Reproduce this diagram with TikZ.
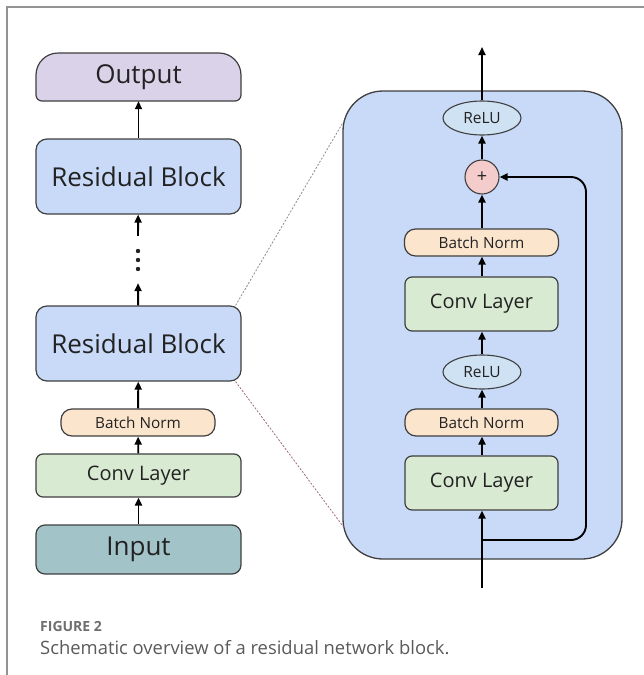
\documentclass[tikz,border=0pt]{standalone}
\usepackage{fontspec}
\setmainfont{Open Sans}
\usetikzlibrary{arrows.meta,shapes.geometric}
\definecolor{txt}{HTML}{222222}
\definecolor{edge}{HTML}{3f3f3f}
\definecolor{blueblk}{HTML}{C9DAF8}
\definecolor{lav}{HTML}{D9D2E9}
\definecolor{peach}{HTML}{FCE5CD}
\definecolor{mint}{HTML}{D9EAD3}
\definecolor{teal}{HTML}{A2C4C9}
\definecolor{relu}{HTML}{CFE2F3}
\definecolor{pink}{HTML}{F4CCCC}
\tikzset{
  box/.style={draw=edge,line width=1.2pt,rounded corners=7pt,text=txt,inner sep=0pt},
  bigtxt/.style={font=\fontsize{26}{26}\selectfont},
  convtxt/.style={font=\fontsize{20}{20}\selectfont},
  bntxt/.style={font=\fontsize{15.3}{15.3}\selectfont},
  arr/.style={line width=1.9pt,-{Triangle[length=8pt,width=7pt]}},
  ell/.style={ellipse,draw=edge,line width=1.1pt,fill=relu,text=txt,inner sep=0pt,minimum width=78pt,minimum height=34pt,font=\fontsize{15.5}{15.5}\selectfont},
}
\begin{document}
\begin{tikzpicture}[x=1pt,y=-1pt]
\useasboundingbox (0,0) rectangle (644,675);
% frame
\draw[color=gray!85,line width=1.5pt] (7,675) -- (7,7) -- (644,7);
% left column
\filldraw[fill=lav,draw=edge,line width=1.2pt] (36,95) -- (36,75) arc[start angle=180,end angle=270,radius=22] -- (219,53) arc[start angle=270,end angle=360,radius=22] -- (241,95) arc[start angle=0,end angle=90,radius=6] -- (42,101) arc[start angle=90,end angle=180,radius=6] -- cycle;
\node[text=txt,inner sep=0pt,minimum width=205pt,minimum height=48pt,bigtxt] (out) at (138.5,77) {Output};
\node[box,fill=blueblk,minimum width=205pt,minimum height=75pt,rounded corners=11pt,bigtxt] (res1) at (138.5,176.5) {Residual Block};
\node[inner sep=0pt,minimum width=10pt,minimum height=47pt] (dots) at (138,259.5) {};
\foreach \yy in {251,260,269} \fill[txt] (138,\yy) circle (2.2pt);
\node[box,fill=blueblk,minimum width=205pt,minimum height=75pt,rounded corners=11pt,bigtxt] (res2) at (138.5,343.5) {Residual Block};
\node[box,fill=peach,minimum width=154pt,minimum height=27pt,rounded corners=11pt,bntxt] (bn0) at (138,422.5) {Batch Norm};
\node[box,fill=mint,minimum width=205pt,minimum height=43pt,convtxt] (cv0) at (138.5,475.5) {Conv Layer};
\node[box,fill=teal,minimum width=205pt,minimum height=49pt,rounded corners=9pt,bigtxt] (inp) at (138.5,549.5) {Input};
\draw[arr] (inp) -- (cv0);
\draw[arr] (cv0) -- (bn0);
\draw[arr] (bn0) -- (res2);
\draw[arr] (res2) -- (dots.south);
\draw[arr] (dots.north) -- (res1);
\draw[arr] (res1) -- (out.south);
% big block
\node[draw=edge,line width=1.3pt,fill=blueblk,rounded corners=40pt,minimum width=279pt,minimum height=468pt,inner sep=0pt] (blk) at (482.5,325) {};
\coordinate (zt) at (345,119);
\coordinate (zb) at (345,529);
\draw[gray!90,line width=0.8pt,dash pattern=on 2pt off 1.6pt] (res2.north east) ++(-6,0) -- (zt);
\draw[color={rgb,255:red,160;green,105;blue,120},line width=0.8pt,dash pattern=on 2pt off 1.6pt] (res2.south east) ++(-6,0) -- (zb);
% inner
\node[ell] (r2) at (482,118) {ReLU};
\node[circle,draw=edge,line width=1.1pt,fill=pink,minimum size=34pt,inner sep=0pt,text=txt,font=\fontsize{18}{18}\selectfont] (plus) at (482,177) {+};
\node[box,fill=peach,minimum width=154pt,minimum height=27pt,rounded corners=11pt,bntxt] (bn2) at (481.5,242.5) {Batch Norm};
\node[box,fill=mint,minimum width=153pt,minimum height=54pt,convtxt] (cv2) at (481.5,304) {Conv Layer};
\node[ell] (r1) at (482,372) {ReLU};
\node[box,fill=peach,minimum width=153pt,minimum height=27pt,rounded corners=11pt,bntxt] (bn1) at (481.5,422.5) {Batch Norm};
\node[box,fill=mint,minimum width=153pt,minimum height=54pt,convtxt] (cv1) at (481.5,483) {Conv Layer};
\coordinate (inx) at (482,588);
\coordinate (outx) at (482,47);
\coordinate (split) at (482,540);
\draw[arr] (inx) -- (cv1.south -| inx);
\draw[arr] (cv1.north -| inx) -- (bn1.south -| inx);
\draw[arr] (bn1.north -| inx) -- (r1);
\draw[arr] (r1) -- (cv2.south -| inx);
\draw[arr] (cv2.north -| inx) -- (bn2.south -| inx);
\draw[arr] (bn2.north -| inx) -- (plus);
\draw[arr] (plus) -- (r2);
\draw[arr] (r2) -- (outx);
\draw[arr,rounded corners=15pt] (split) -- (586,540) -- (586,177) -- (plus);
% caption
\node[anchor=west,inner sep=0pt,text={rgb,255:red,110;green,110;blue,110},font=\fontsize{14}{14}\selectfont\bfseries] (figlab) at (40,626) {FIGURE 2};
\node[anchor=west,inner sep=0pt,text={rgb,255:red,90;green,90;blue,90},font=\fontsize{18.4}{18.4}\selectfont] (cap) at (40,648) {Schematic overview of a residual network block.};
\end{tikzpicture}
\end{document}
